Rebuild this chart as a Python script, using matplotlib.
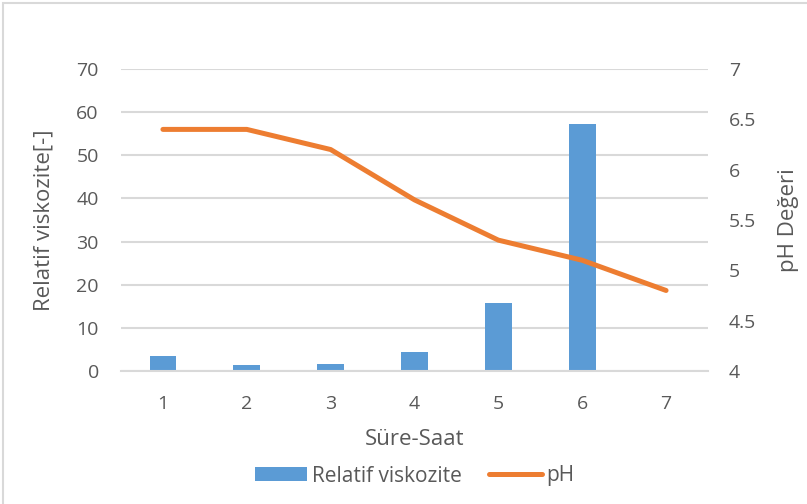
import matplotlib.pyplot as plt
from matplotlib.patches import Rectangle

plt.rcParams['font.family'] = ['Open Sans', 'DejaVu Sans']

hours = [1, 2, 3, 4, 5, 6, 7]
viscosity = [3.4, 1.4, 1.6, 4.3, 15.7, 57.3, 0]
ph = [6.4, 6.4, 6.2, 5.7, 5.3, 5.1, 4.8]

text_color = '#595959'
bar_color = '#5b9bd5'
line_color = '#ed7d31'

fig = plt.figure(figsize=(8.07, 5.04), dpi=100)
fig.patches.append(Rectangle((3 / 807, -0.1), 1.2, 1.1 - 3 / 504, transform=fig.transFigure,
                             fill=False, edgecolor='#d9d9d9', linewidth=1.5))
ax1 = fig.add_axes([121 / 807, 1 - 371 / 504, (708 - 121) / 807, (371 - 69) / 504])
ax2 = ax1.twinx()

bars = ax1.bar(hours, viscosity, width=0.32, color=bar_color, label='Relatif viskozite', zorder=2)
line, = ax2.plot(hours, ph, color=line_color, linewidth=3.6, solid_capstyle='round', label='pH')

ax1.set_xlim(0.5, 7.5)
ax1.set_ylim(0, 70)
ax1.set_yticks(range(0, 71, 10))
ax2.set_ylim(4, 7)
ax2.set_yticks([4, 4.5, 5, 5.5, 6, 6.5, 7])
ax2.set_yticklabels(['4', '4.5', '5', '5.5', '6', '6.5', '7'])
ax1.set_xticks(hours)

ax1.grid(axis='y', color='#d9d9d9', linewidth=1.5, zorder=0)
ax1.set_axisbelow(True)
for a in (ax1, ax2):
    for s in a.spines.values():
        s.set_visible(False)
    a.tick_params(length=0, labelsize=14, colors=text_color)
ax1.spines['bottom'].set_visible(True)
ax1.spines['bottom'].set_color('#d9d9d9')
ax1.spines['bottom'].set_linewidth(1.5)
ax1.tick_params(axis='x', pad=17)
ax1.tick_params(axis='y', pad=16)
ax2.tick_params(axis='y', pad=15)

ax1.set_xlabel('Süre-Saat', fontsize=16, color=text_color, labelpad=12)
ax1.set_ylabel('Relatif viskozite[-]', fontsize=16, color=text_color)
ax1.yaxis.set_label_coords(-0.114, 0.5)
ax2.set_ylabel('pH Değeri', fontsize=16, color=text_color, labelpad=16)

fig.legend([bars, line], ['Relatif viskozite', 'pH'], loc='center',
           bbox_to_anchor=(415 / 807, 1 - 476 / 504),
           ncol=2, frameon=False, fontsize=15, labelcolor=text_color, handlelength=2.5,
           handleheight=0.63, columnspacing=1.3, handletextpad=0.25)

fig.savefig('out.png', dpi=100)
